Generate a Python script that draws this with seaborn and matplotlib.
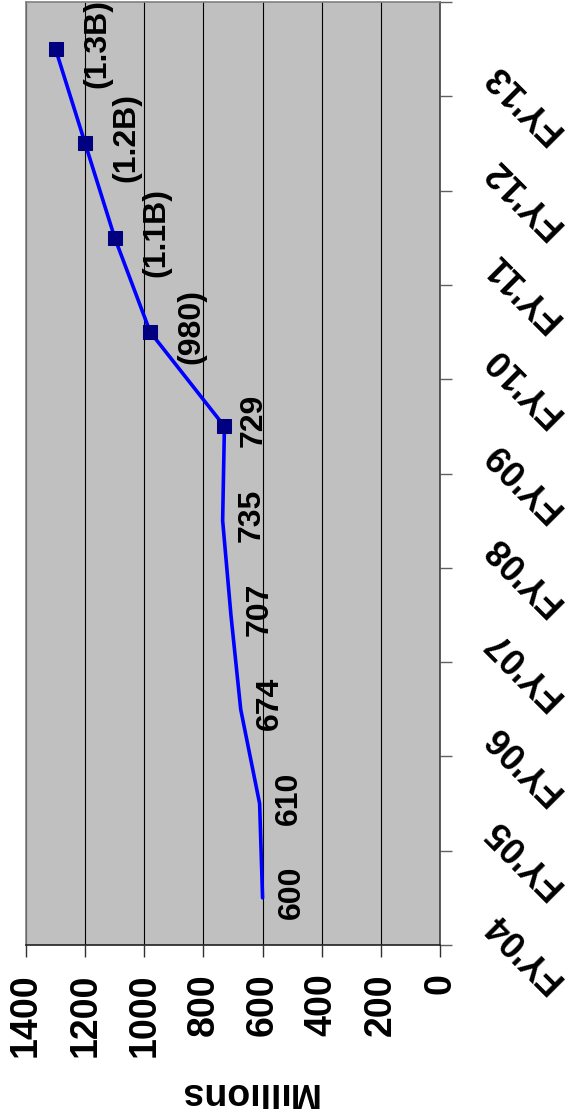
import matplotlib
matplotlib.use("Agg")
import matplotlib.pyplot as plt
import matplotlib.transforms as mtransforms
import seaborn as sns
import pandas as pd

# data
years = ["FY'04", "FY'05", "FY'06", "FY'07", "FY'08",
         "FY'09", "FY'10", "FY'11", "FY'12", "FY'13"]
spend = [600, 610, 674, 707, 735, 729, 980, 1100, 1200, 1300]
point_labels = ["600", "610", "674", "707", "735", "729",
                "(980)", "(1.1B)", "(1.2B)", "(1.3B)"]
value_ticks = [0, 200, 400, 600, 800, 1000, 1200, 1400]

df = pd.DataFrame({"year": years, "pos": range(len(years)), "spend": spend})

sns.set_style("ticks")
plt.rcParams["font.family"] = ["Liberation Sans", "DejaVu Sans"]
plt.rcParams["font.weight"] = "bold"
plt.rcParams["text.color"] = "black"
plt.rcParams["axes.labelcolor"] = "black"
plt.rcParams["xtick.labelcolor"] = "black"
plt.rcParams["ytick.labelcolor"] = "black"

fig = plt.figure(figsize=(5.67, 11.09), dpi=100)
ax = fig.add_axes([26 / 567, 164 / 1109, 414 / 567, 943 / 1109])
ax.set_facecolor("#C0C0C0")
ax.set_axisbelow(True)

# line, markers only on the projected years
sns.lineplot(data=df, x="spend", y="pos", orient="y", ax=ax,
             color="#0000FF", lw=2.6, marker="s", markevery=[5, 6, 7, 8, 9],
             markersize=10, markerfacecolor="#000080",
             markeredgecolor="#000080", zorder=3)

for i, (v, lab) in enumerate(zip(spend, point_labels)):
    dx = 30 if lab.startswith("(") else 21
    ax.annotate(lab, (v, i), xytext=(dx, 4), textcoords="offset points",
                rotation=90, ha="center", va="center", color="black",
                fontsize=23, fontweight="bold")

# value axis (bottom, reversed)
ax.set_xlim(1400, 0)
ax.set_xticks(value_ticks)
ax.set_xticklabels([str(t) for t in value_ticks], rotation=90,
                   fontsize=27, fontweight="bold")
ax.tick_params(axis="x", length=8.6, width=1, color="#303030", pad=12)
ax.xaxis.grid(True, color="black", lw=0.8)
ax.set_xlabel("Millions", fontsize=27, fontweight="bold", rotation=180)
ax.xaxis.set_label_coords(0.536, -0.157)
ax.xaxis.label.set_va("center")

# category axis (right side)
ax.yaxis.tick_right()
ax.set_ylim(-0.5, len(years) - 0.5)
ax.set_yticks(range(len(years)))
ax.set_yticklabels(years, fontsize=26, fontweight="bold")
ax.set_yticks([k - 0.5 for k in range(len(years) + 1)], minor=True)
ax.tick_params(axis="y", which="major", length=0, pad=36)
ax.tick_params(axis="y", which="minor", length=8.6, width=1, color="#606060")
ax.set_ylabel("")
shift = mtransforms.ScaledTranslation(0, -20 / 100, fig.dpi_scale_trans)
for t in ax.get_yticklabels():
    t.set_rotation(135)
    t.set_rotation_mode("anchor")
    t.set_ha("right")
    t.set_va("center")
    t.set_transform(t.get_transform() + shift)

for side in ["left", "top"]:
    ax.spines[side].set_color("#808080")
    ax.spines[side].set_linewidth(1.2)
ax.spines["right"].set_color("#404040")
ax.spines["right"].set_linewidth(1.2)
ax.spines["bottom"].set_color("#202020")
ax.spines["bottom"].set_linewidth(1.2)

fig.savefig("out.png", dpi=100, facecolor="white")
